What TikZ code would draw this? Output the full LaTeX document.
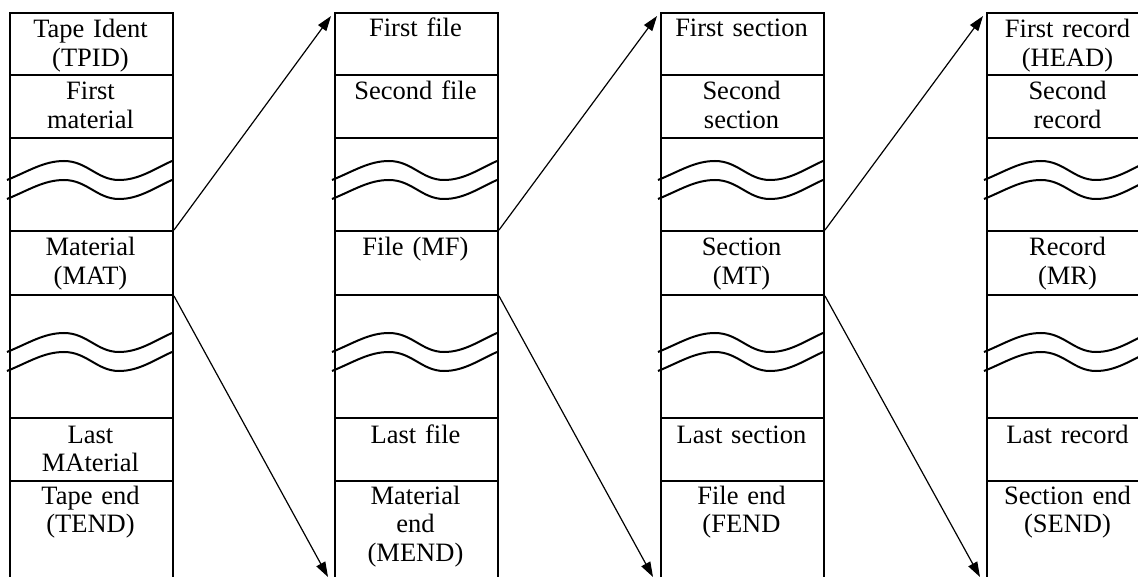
\documentclass[tikz,border=0pt]{standalone}
\usepackage{fontspec}
\setmainfont{Liberation Serif}
\usetikzlibrary{arrows.meta}
\begin{document}
\begin{tikzpicture}[x=1pt,y=-1pt,
  cell/.style={draw, line width=2pt, minimum width=163pt, inner sep=0pt, anchor=north west},
  wave/.style={line width=2pt},
  txt/.style={anchor=base, text width=160pt, align=center, inner sep=0pt, font=\fontsize{26.5}{28.5}\selectfont},
  conn/.style={line width=1.2pt, -{Triangle[length=15pt,width=10pt]}}]
\useasboundingbox (0,0) rectangle (1138,577);
\fill[white] (0,0) rectangle (1138,577);
% columns of cells
\foreach \xo/\c in {9/a,334/b,660/c,986/d} {
  \foreach \t/\h/\r in {12/62/1,74/63/2,137/93/3,230/64/4,294/123/5,417/63/6,480/130/7} {
    \node[cell, minimum height=\h pt] (\c\r) at (\xo,\t) {};
  }
  \draw[wave] (\xo-2,180) .. controls (\xo+20,171) and (\xo+35,161) .. (\xo+55,161)
     .. controls (\xo+78,161) and (\xo+88,180) .. (\xo+110,180)
     .. controls (\xo+130,180) and (\xo+145,169) .. (\xo+163,161);
  \draw[wave] (\xo-2,199) .. controls (\xo+20,190) and (\xo+35,180) .. (\xo+55,180)
     .. controls (\xo+78,180) and (\xo+88,199) .. (\xo+110,199)
     .. controls (\xo+130,199) and (\xo+145,188) .. (\xo+163,180);
  \draw[wave] (\xo-2,352) .. controls (\xo+20,343) and (\xo+35,333) .. (\xo+55,333)
     .. controls (\xo+78,333) and (\xo+88,352) .. (\xo+110,352)
     .. controls (\xo+130,352) and (\xo+145,341) .. (\xo+163,333);
  \draw[wave] (\xo-2,371) .. controls (\xo+20,362) and (\xo+35,352) .. (\xo+55,352)
     .. controls (\xo+78,352) and (\xo+88,371) .. (\xo+110,371)
     .. controls (\xo+130,371) and (\xo+145,360) .. (\xo+163,352);
}
% texts column 1
\node[txt] (ta1) at (90.5,38) {Tape Ident\\(TPID)};
\node[txt] (ta2) at (90.5,100) {First\\material};
\node[txt] (ta4) at (90.5,256) {Material\\(MAT)};
\node[txt] (ta6) at (90.5,443) {Last\\MAterial};
\node[txt] (ta7) at (90.5,504) {Tape end\\(TEND)};
% texts column 2
\node[txt] (tb1) at (415.5,37) {First file};
\node[txt] (tb2) at (415.5,100) {Second file};
\node[txt] (tb4) at (415.5,256) {File (MF)};
\node[txt] (tb6) at (415.5,443) {Last file};
\node[txt] (tb7) at (415.5,504) {Material\\end\\(MEND)};
% texts column 3
\node[txt] (tc1) at (741.5,37) {First section};
\node[txt] (tc2) at (741.5,100) {Second\\section};
\node[txt] (tc4) at (741.5,256) {Section\\(MT)};
\node[txt] (tc6) at (741.5,443) {Last section};
\node[txt] (tc7) at (741.5,504) {File end\\(FEND};
% texts column 4
\node[txt] (td1) at (1067.5,38) {First record\\(HEAD)};
\node[txt] (td2) at (1067.5,100) {Second\\record};
\node[txt] (td4) at (1067.5,256) {Record\\(MR)};
\node[txt] (td6) at (1067.5,443) {Last record};
\node[txt] (td7) at (1067.5,504) {Section end\\(SEND)};
% arrow ends at the bottom
\coordinate (eb) at (328,577);
\coordinate (ec) at (653,577);
\coordinate (ed) at (980,577);
% connectors
\draw[conn, shorten >=5pt] (a4.north east) -- (b1.north west);
\draw[conn] (a4.south east) -- (eb);
\draw[conn, shorten >=5pt] (b4.north east) -- (c1.north west);
\draw[conn] (b4.south east) -- (ec);
\draw[conn, shorten >=5pt] (c4.north east) -- (d1.north west);
\draw[conn] (c4.south east) -- (ed);
\end{tikzpicture}
\end{document}
